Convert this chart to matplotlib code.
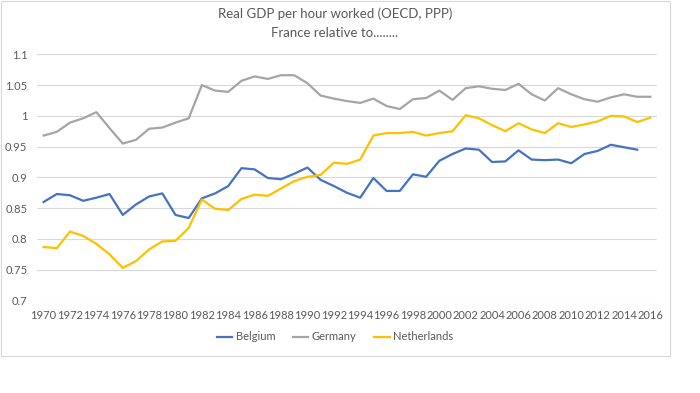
import matplotlib
matplotlib.use("Agg")
import matplotlib.pyplot as plt
from matplotlib.patches import Rectangle

plt.rcParams['font.family'] = ['Lato', 'DejaVu Sans']

years = list(range(1970, 2017))
belgium = [0.860, 0.873, 0.871, 0.862, 0.867, 0.873, 0.839, 0.856, 0.869, 0.874,
           0.839, 0.834, 0.866, 0.874, 0.886, 0.915, 0.913, 0.899, 0.897, 0.906,
           0.916, 0.896, 0.886, 0.875, 0.867, 0.899, 0.878, 0.878, 0.905, 0.901,
           0.927, 0.938, 0.947, 0.945, 0.925, 0.926, 0.944, 0.929, 0.928, 0.929,
           0.923, 0.938, 0.943, 0.953, 0.949, 0.945, None]
germany = [0.968, 0.974, 0.989, 0.996, 1.006, 0.980, 0.955, 0.961, 0.979, 0.981,
           0.989, 0.996, 1.050, 1.041, 1.039, 1.057, 1.064, 1.060, 1.066, 1.066,
           1.053, 1.033, 1.028, 1.024, 1.021, 1.028, 1.016, 1.011, 1.027, 1.029,
           1.041, 1.026, 1.045, 1.048, 1.044, 1.042, 1.052, 1.035, 1.025, 1.045,
           1.035, 1.027, 1.023, 1.030, 1.035, 1.031, 1.031]
netherlands = [0.787, 0.785, 0.812, 0.805, 0.792, 0.775, 0.753, 0.764, 0.783, 0.796,
               0.797, 0.818, 0.864, 0.849, 0.847, 0.865, 0.872, 0.870, 0.882, 0.894,
               0.901, 0.904, 0.924, 0.922, 0.929, 0.968, 0.972, 0.972, 0.974, 0.968,
               0.972, 0.975, 1.001, 0.996, 0.985, 0.975, 0.988, 0.978, 0.972, 0.988,
               0.982, 0.986, 0.991, 1.000, 0.999, 0.990, 0.997]
series_names = ["Belgium", "Germany", "Netherlands"]
series_colors = ["#4472C4", "#A5A5A5", "#FFC000"]
title_lines = ["Real GDP per hour worked (OECD, PPP)", "France relative to........"]
yticks = [0.7, 0.75, 0.8, 0.85, 0.9, 0.95, 1.0, 1.05, 1.1]
ytick_labels = ["0.7", "0.75", "0.8", "0.85", "0.9", "0.95", "1", "1.05", "1.1"]

fig = plt.figure(figsize=(7.0, 3.93), dpi=100)
fig.patch.set_facecolor("white")
fig.patches.append(Rectangle((0.5 / 700, 1 - 356 / 393), 669 / 700, 355.5 / 393,
                             transform=fig.transFigure, fill=False,
                             edgecolor="#D9D9D9", linewidth=0.8))

ax = fig.add_axes([37 / 700, 1 - 300.5 / 393, 620 / 700, (300.5 - 54.3) / 393])
for name, vals, col in zip(series_names, [belgium, germany, netherlands], series_colors):
    xs = [y for y, v in zip(years, vals) if v is not None]
    ys = [v for v in vals if v is not None]
    ax.plot(xs, ys, color=col, linewidth=1.6, label=name, solid_joinstyle="round")

ax.set_xlim(1969.5, 2016.5)
ax.set_ylim(0.7, 1.1)
ax.set_yticks(yticks)
ax.set_yticklabels(ytick_labels)
ax.set_xticks(years[::2])
ax.set_xticklabels([str(y) for y in years[::2]])
ax.tick_params(axis="both", length=0, labelsize=8, colors="#595959")
ax.tick_params(axis="x", pad=7)
ax.tick_params(axis="y", pad=7)
ax.grid(axis="y", color="#D9D9D9", linewidth=0.8)
ax.set_axisbelow(True)
for s in ax.spines.values():
    s.set_visible(False)

fig.text(335 / 700, 1 - 14 / 393, title_lines[0], ha="center", va="center",
         fontsize=9.5, color="#595959")
fig.text(335 / 700, 1 - 33 / 393, title_lines[1], ha="center", va="center",
         fontsize=9.5, color="#595959")

leg = fig.legend(loc="center", bbox_to_anchor=(335 / 700, 1 - 337 / 393), ncol=3,
                 frameon=False, fontsize=8, handlelength=1.4, handletextpad=0.3,
                 columnspacing=1.6, labelcolor="#595959")

fig.savefig("out.png", dpi=100, facecolor="white")
